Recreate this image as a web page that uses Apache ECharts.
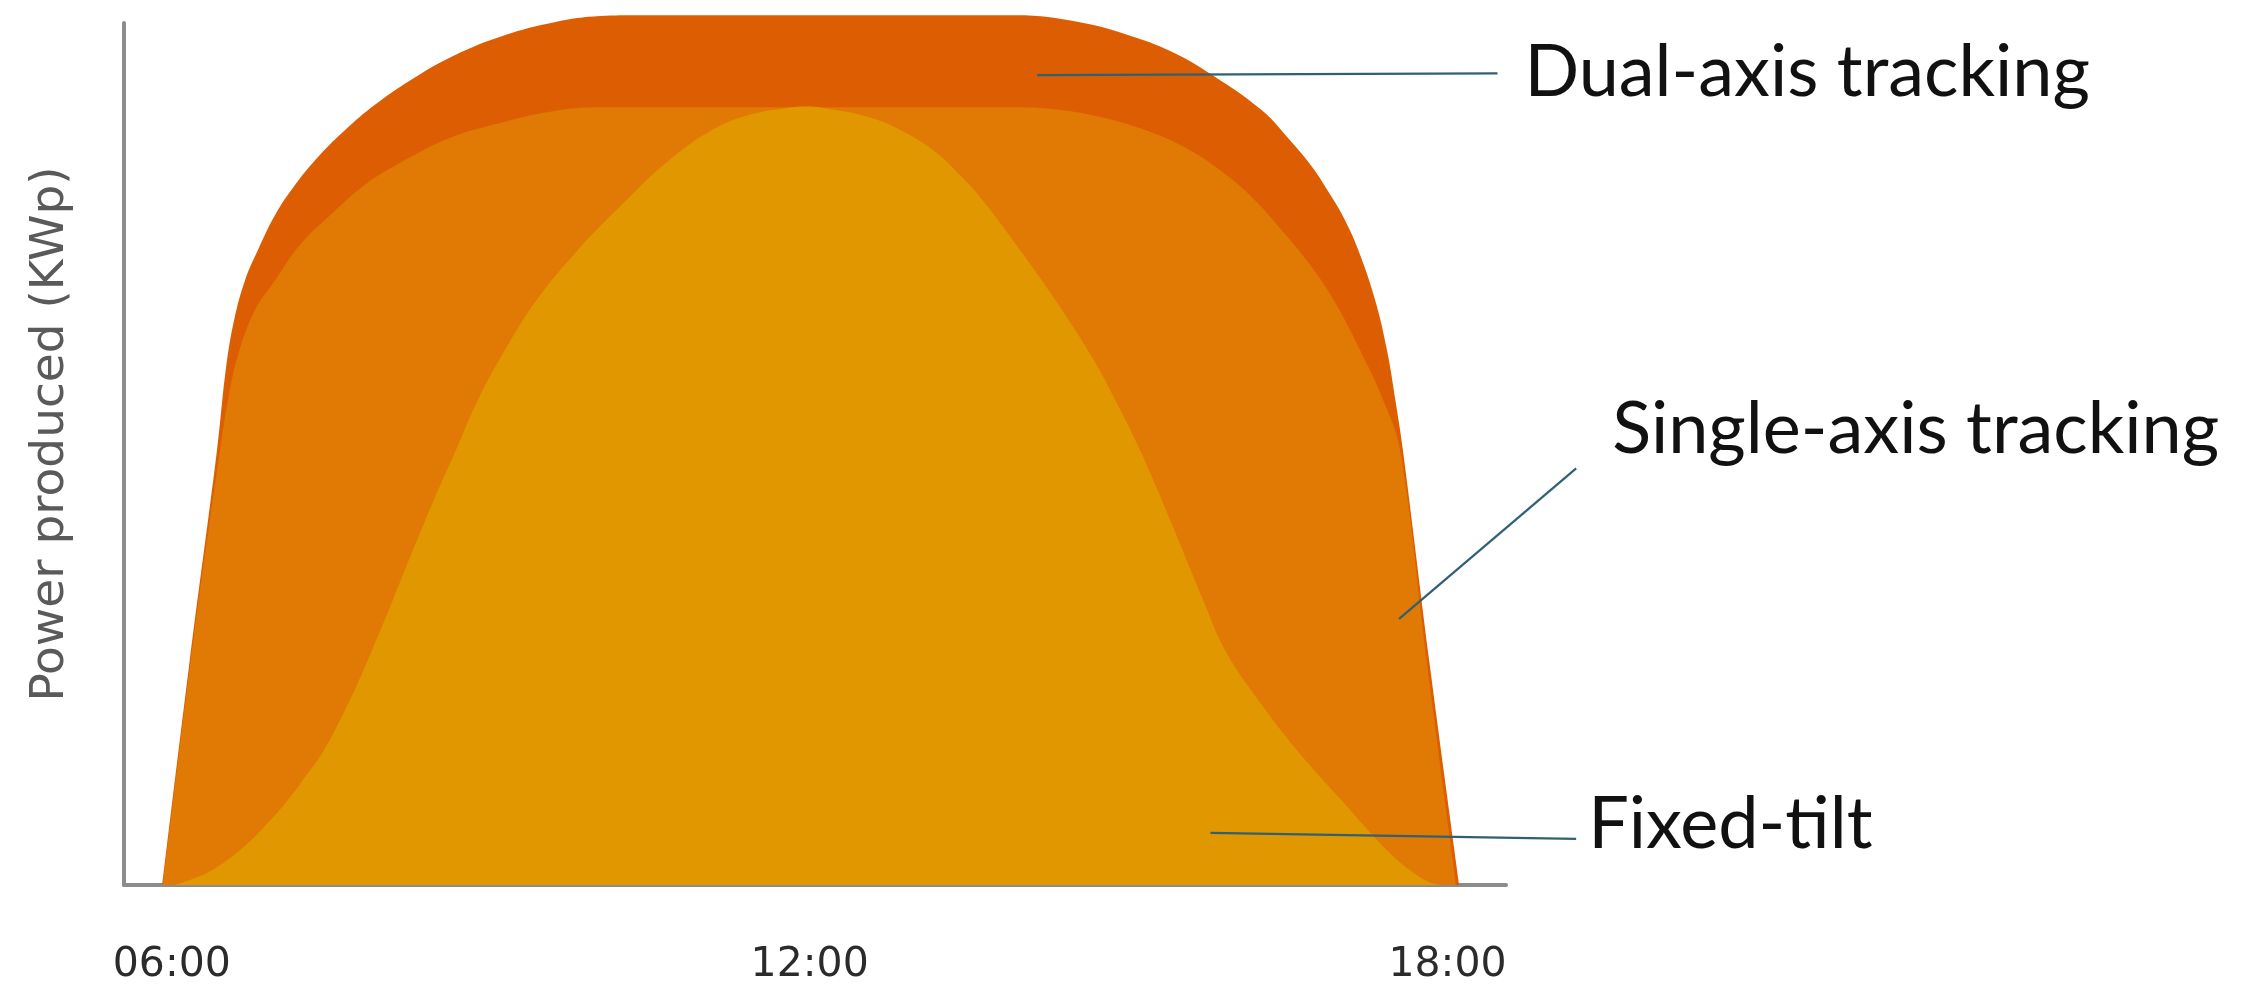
<!DOCTYPE html>
<html>
<head>
<meta charset="utf-8">
<script src="https://cdn.jsdelivr.net/npm/echarts@6/dist/echarts.min.js"></script>
<style>
html,body{margin:0;padding:0;background:#ffffff;}
#chart{width:2267px;height:987px;}
</style>
</head>
<body>
<div id="chart"></div>
<script>
// ---- data (hours of day, relative power) ----
const timeTicks = [6, 12, 18];

const dualHours = [5.91, 6.161, 6.425, 6.51, 6.585, 6.688, 6.81, 6.97, 7.16, 7.39, 7.63, 7.91, 8.24, 8.66, 9.13, 9.60, 10.03, 10.40,
                   13.94, 14.54, 15.05, 15.44, 15.79, 16.25, 16.52, 16.73, 16.90, 17.02, 17.16, 17.32, 17.43, 17.51, 17.58, 17.835, 18.11];
const dualPower = [0, 25.1, 50.0, 59.5, 64.9, 69.5, 73.0, 77.0, 80.5, 83.9, 86.8, 89.7, 92.5, 95.4, 97.7, 99.2, 99.9, 100,
                   100, 99.2, 97.5, 95.6, 93.1, 89.1, 85.6, 82.5, 79.3, 76.8, 73.0, 67.2, 61.5, 55.7, 50.0, 25.1, 0];

const singleHours = [5.917, 6.17, 6.453, 6.528, 6.622, 6.782, 6.97, 7.206, 7.488, 7.817, 8.146, 8.617, 9.087, 9.557, 10.03,
                     13.94, 14.355, 14.731, 15.107, 15.483, 15.812, 16.142, 16.424, 16.706, 16.941, 17.177, 17.393, 17.553, 17.81, 18.08];
const singlePower = [0, 25.1, 50.0, 55.7, 60.9, 66.1, 69.5, 73.6, 77.0, 80.5, 83.0, 85.9, 87.6, 88.9, 89.4,
                     89.4, 89.1, 88.3, 87.0, 85.1, 82.6, 79.3, 75.5, 71.3, 67.0, 61.5, 55.8, 50.0, 25.1, 0];

const fixedHours = [6.030, 6.218, 6.378, 6.641, 6.886, 7.093, 7.271, 7.431, 7.676, 7.883, 8.080, 8.268, 8.466, 8.673, 8.880,
                    9.134, 9.435, 9.820, 10.281, 10.686, 11.081, 11.420, 11.768, 11.956,
                    12.238, 12.520, 12.821, 13.160, 13.414, 13.621, 13.978, 14.307, 14.655, 14.872, 15.107, 15.389,
                    15.700, 15.907, 16.217, 16.584, 16.998, 17.430, 17.647, 17.835, 17.976];
const fixedPower = [0, 0.8, 1.7, 4.0, 6.9, 9.8, 12.7, 15.5, 21.3, 27.0, 32.8, 38.5, 44.3, 50.0, 55.8,
                    61.5, 67.3, 73.0, 78.8, 83.4, 86.8, 88.5, 89.3, 89.5,
                    89.1, 88.4, 87.0, 84.5, 81.6, 78.8, 73.0, 67.3, 60.7, 55.8, 50.0, 42.0,
                    32.8, 27.0, 21.3, 15.5, 9.8, 4.0, 1.7, 0.3, 0];

const seriesNames = ['Dual-axis tracking', 'Single-axis tracking', 'Fixed-tilt'];
// leader lines (start point inside the area, end point next to the label), in data units
const leaderFrom = [[14.14, 93.1], [17.544, 30.6], [15.77, 6.0]];
const leaderTo   = [[18.47, 93.3], [19.21, 47.9], [19.21, 5.3]];

// ---- styles ----
const areaColors = ['#DD5E02', '#E07A05', '#E19800'];
const leaderColor = '#2E6173';
const labelShift = [[27, -1], [36, -39], [12, -14]];

const zip = (a, b) => a.map((x, i) => [x, b[i]]);
const areaData = [zip(dualHours, dualPower), zip(singleHours, singlePower), zip(fixedHours, fixedPower)];

const chart = echarts.init(document.getElementById('chart'), null, {renderer: 'canvas'});

const series = seriesNames.map((name, i) => ({
  name: name,
  type: 'line',
  data: areaData[i],
  symbol: 'none',
  smooth: 0.4,
  clip: false,
  lineStyle: {width: 0, color: areaColors[i]},
  areaStyle: {color: areaColors[i], opacity: 1},
  z: 2 + i
}));

chart.setOption({
  animation: false,
  backgroundColor: '#ffffff',
  grid: {left: 124, right: 761, top: 23, bottom: 102, containLabel: false},
  xAxis: {
    type: 'value',
    min: 5.55,
    max: 18.55,
    axisLine: {show: true, onZero: false, lineStyle: {color: '#8c8c8c', width: 4}},
    axisTick: {show: false},
    splitLine: {show: false},
    axisLabel: {
      customValues: timeTicks,
      formatter: v => (v < 10 ? '0' : '') + v + ':00',
      fontFamily: 'DejaVu Sans',
      fontSize: 41,
      color: '#2b2b2b',
      margin: 60
    }
  },
  yAxis: {
    type: 'value',
    min: 0,
    max: 99.1,
    name: 'Power produced (KWp)',
    nameLocation: 'middle',
    nameRotate: 90,
    nameGap: 50,
    nameTextStyle: {fontFamily: 'DejaVu Sans', fontSize: 47, color: '#5a5a5a', padding: [0, 0, 0, 40]},
    axisLine: {show: true, lineStyle: {color: '#8c8c8c', width: 4}},
    axisTick: {show: false},
    axisLabel: {show: false},
    splitLine: {show: false}
  },
  series: series
});

// leader lines and annotation texts, positioned through the chart's own scales
const graphics = [];
seriesNames.forEach((name, i) => {
  const a = chart.convertToPixel({gridIndex: 0}, leaderFrom[i]);
  const b = chart.convertToPixel({gridIndex: 0}, leaderTo[i]);
  graphics.push({
    type: 'line',
    z: 20,
    shape: {x1: a[0], y1: a[1], x2: b[0], y2: b[1]},
    style: {stroke: leaderColor, lineWidth: 2.2}
  });
  graphics.push({
    type: 'text',
    x: b[0] + labelShift[i][0],
    y: b[1] + labelShift[i][1],
    z: 20,
    style: {
      text: name,
      font: '72px Lato',
      fill: '#111111',
      align: 'left',
      verticalAlign: 'middle'
    }
  });
});
chart.setOption({graphic: graphics});
</script>
</body>
</html>
